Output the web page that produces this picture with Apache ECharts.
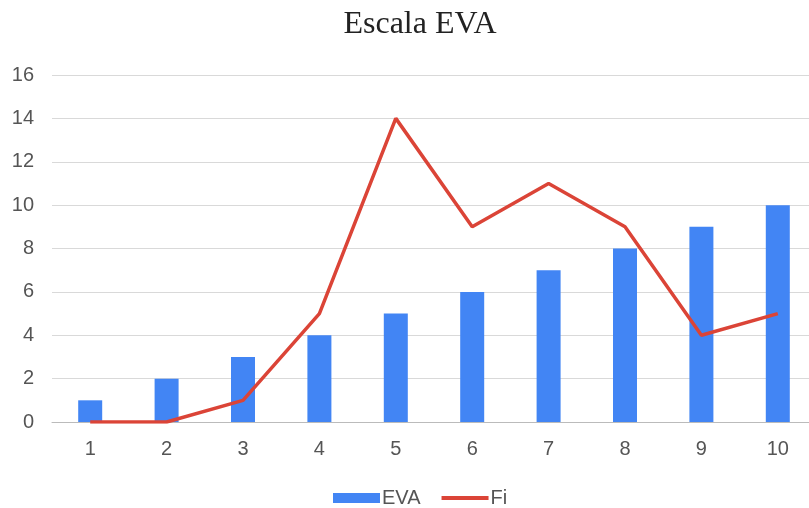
<!DOCTYPE html>
<html><head><meta charset="utf-8">
<script src="https://cdn.jsdelivr.net/npm/echarts@6/dist/echarts.min.js"></script>
<style>html,body{margin:0;padding:0;background:#fff;overflow:hidden}#c{width:816px;height:508px}</style>
</head><body><div id="c"></div>
<script>
const categories = ['1','2','3','4','5','6','7','8','9','10'];
const evaValues = [1,2,3,4,5,6,7,8,9,10];
const fiValues = [0,0,1,5,14,9,11,9,4,5];
const yTicks = {min:0, max:16, interval:2};

const chart = echarts.init(document.getElementById('c'), null, {renderer:'canvas'});
chart.setOption({
  animation:false,
  backgroundColor:'#fff',
  title:{text:'Escala EVA', left:415, top:4, textAlign:'center',
    textStyle:{fontFamily:'Liberation Serif', fontWeight:'normal', fontSize:32, color:'#222'}},
  grid:{left:52, right:0, top:75, height:347, containLabel:false},
  legend:{top:483, left:328, itemGap:21, itemWidth:47, itemHeight:10,
    textStyle:{fontFamily:'Liberation Sans', fontSize:20, color:'#555', padding:[0,0,0,-3]},
    data:[{name:'EVA', icon:'rect'},{name:'Fi', icon:'path://M0,0 L47,0 L47,4 L0,4 Z'}]},
  xAxis:{type:'category', data:categories, boundaryGap:true,
    axisLine:{lineStyle:{color:'#bbb'}}, axisTick:{show:false},
    axisLabel:{fontFamily:'Liberation Sans', fontSize:20, color:'#555', margin:17}},
  yAxis:{type:'value', min:yTicks.min, max:yTicks.max, interval:yTicks.interval,
    axisLine:{show:false}, axisTick:{show:false},
    splitLine:{lineStyle:{color:'#d9d9d9'}},
    axisLabel:{fontFamily:'Liberation Sans', fontSize:20, color:'#555', margin:18}},
  series:[
    {name:'EVA', type:'bar', data:evaValues, barWidth:24, itemStyle:{color:'#4285f4'}},
    {name:'Fi', type:'line', data:fiValues, symbol:'none', showSymbol:false,
      lineStyle:{color:'#db4437', width:3.5}, itemStyle:{color:'#db4437'}}
  ]
});
</script></body></html>
